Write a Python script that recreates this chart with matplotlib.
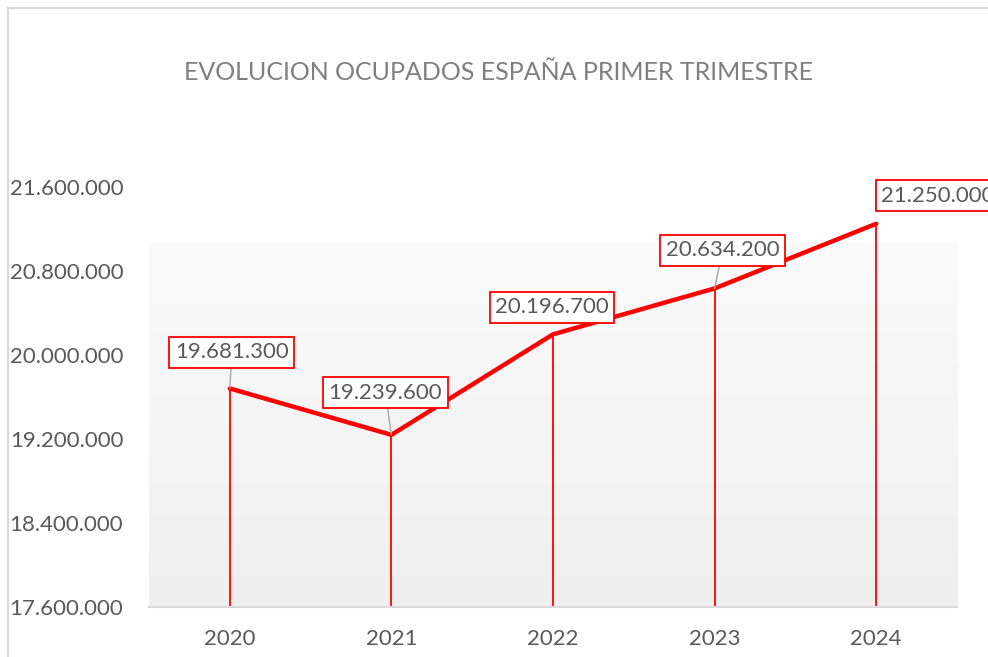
import numpy as np
import matplotlib
matplotlib.use("Agg")
from matplotlib import pyplot as plt
from matplotlib.lines import Line2D

years = ["2020", "2021", "2022", "2023", "2024"]
ocupados = [19681300, 19239600, 20196700, 20634200, 21250000]
yticks = [17600000, 18400000, 19200000, 20000000, 20800000, 21600000]
# label box offsets from each point, in pixels
label_dx = [2, -6, -1, 8, 62]
label_dy = [-36, -42, -27, -38, -28]
leader = [True, True, False, True, False]

plt.rcParams["font.family"] = ["Lato", "DejaVu Sans"]
grey_txt = "#595959"


def fmt(v):
    return f"{v:,}".replace(",", ".")


fig = plt.figure(figsize=(9.88, 6.57), dpi=100)
ax = fig.add_axes([149 / 988, 1 - 607 / 657, (957 - 149) / 988, 420 / 657])

x = np.arange(len(years))
ax.set_xlim(-0.5, len(years) - 0.5)

# gradient plot background
grad = np.linspace(0, 1, 256).reshape(-1, 1)
cmap = matplotlib.colors.LinearSegmentedColormap.from_list("g", ["#efefef", "#fbfbfb"])
ax.imshow(grad, cmap=cmap, aspect="auto", origin="lower",
          extent=(-0.5, len(years) - 0.5, yticks[0], 21076000), zorder=0)
ax.set_ylim(yticks[0], yticks[-1])

# drop lines
ax.vlines(x, yticks[0], ocupados, color="red", lw=1.3, zorder=2)
ax.plot(x, ocupados, color="red", lw=3.2, solid_capstyle="round", zorder=3)

for i, v in enumerate(ocupados):
    arrow = dict(arrowstyle="-", color="#a6a6a6", lw=1, shrinkA=0, shrinkB=0) if leader[i] else None
    ax.annotate(fmt(v), (x[i], v), xytext=(label_dx[i], -label_dy[i]),
                textcoords="offset pixels", ha="center", va="center",
                fontsize=16, color=grey_txt, zorder=5, annotation_clip=False,
                bbox=dict(boxstyle="square,pad=0.25", fc="white", ec="red", lw=1.3),
                arrowprops=arrow)

ax.set_xticks(x)
ax.set_xticklabels(years)
ax.set_yticks(yticks)
ax.set_yticklabels([fmt(t) for t in yticks])
ax.tick_params(axis="both", length=0, labelsize=16, labelcolor=grey_txt)
ax.tick_params(axis="y", pad=18.5)
ax.tick_params(axis="x", pad=16)
for s in ["left", "right", "top"]:
    ax.spines[s].set_visible(False)
ax.spines["bottom"].set_color("#d9d9d9")
ax.spines["bottom"].set_linewidth(1.5)

fig.text(499 / 988, 1 - 72 / 657, "EVOLUCION OCUPADOS ESPAÑA PRIMER TRIMESTRE",
         ha="center", va="center", fontsize=18, color="#7f7f7f")

# chart frame (left and top edges visible)
fig.add_artist(Line2D([8 / 988, 8 / 988], [0, 1 - 8 / 657], color="#d9d9d9", lw=1.5))
fig.add_artist(Line2D([8 / 988, 1], [1 - 8 / 657, 1 - 8 / 657], color="#d9d9d9", lw=1.5))

fig.savefig("out.png", dpi=100)
